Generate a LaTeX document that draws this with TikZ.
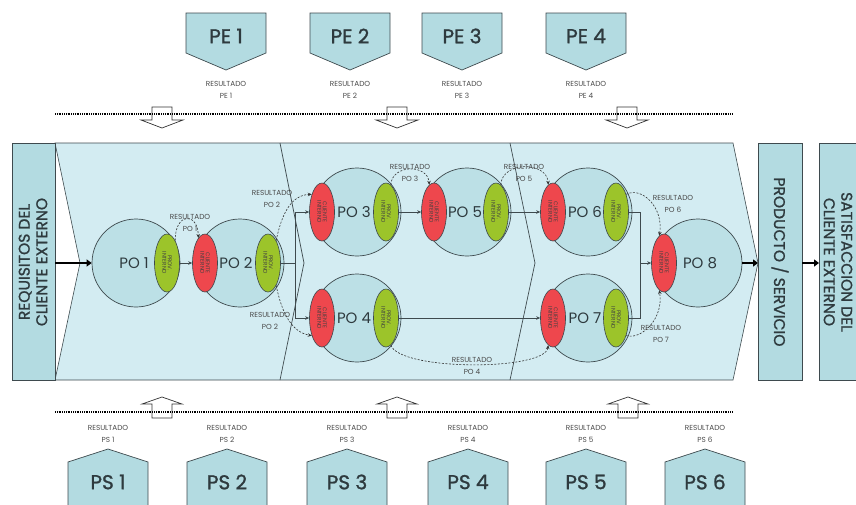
\documentclass[tikz,border=0pt]{standalone}
\usepackage{fontspec}
\setmainfont{Poppins}
\newfontfamily\medfont{Poppins}[FakeBold=1.2]
\usetikzlibrary{shapes.geometric,arrows.meta}
\definecolor{band}{HTML}{D3ECF2}
\definecolor{boxc}{HTML}{B3DBE1}
\definecolor{circc}{HTML}{BCE0E6}
\definecolor{edge}{HTML}{3E4A4E}
\definecolor{redi}{HTML}{EE474D}
\definecolor{greeni}{HTML}{9CC42A}
\definecolor{txt}{HTML}{2E3A3E}
\definecolor{smalltxt}{HTML}{4A4A4A}
\tikzset{
  sidebox/.style={draw=edge, line width=0.6pt, fill=boxc},
  pobox/.style={circle, draw=edge, line width=0.7pt, fill=circc, minimum size=88pt, inner sep=0pt},
  potext/.style={font=\fontsize{15}{15}\selectfont, text=txt, inner sep=0pt},
  redell/.style={ellipse, draw=edge, line width=0.6pt, fill=redi, minimum width=25pt, minimum height=58pt, inner sep=0pt,
    label={[rotate=-90, font=\fontsize{5.5}{5.6}\selectfont, text=black!75, align=center]center:CLIENTE\\INTERNO}},
  greenell/.style={ellipse, draw=edge, line width=0.6pt, fill=greeni, minimum width=25pt, minimum height=58pt, inner sep=0pt,
    label={[rotate=-90, font=\fontsize{5.5}{5.6}\selectfont, text=black!75, align=center]center:PROV.\\INTERNO}},
  restext/.style={font=\fontsize{7.3}{11.5}\selectfont, text=smalltxt, align=center, inner sep=0pt},
  flow/.style={draw=edge, line width=0.7pt},
  flowarr/.style={draw=edge, line width=0.7pt, -{Stealth[length=4pt,width=3.5pt]}},
  resarr/.style={draw=black!80, line width=0.6pt, dash pattern=on 2pt off 1.5pt, -{Stealth[length=4pt,width=3.5pt]}},
  thickarr/.style={draw=black, line width=2.2pt, -{Triangle[length=5pt,width=7pt]}},
  dotline/.style={draw=black, line width=2.4pt, dash pattern=on 1pt off 0.8pt},
  openarr/.style={draw=black!80, line width=0.7pt, fill=white},
  pshape/.style={draw=edge, line width=0.7pt, fill=boxc},
  ptext/.style={font=\medfont\fontsize{20}{20}\selectfont, text=txt, inner sep=0pt},
  sidetext/.style={font=\medfont\fontsize{15.5}{17.5}\selectfont, text=txt, align=center, inner sep=0pt}
}
\begin{document}
\begin{tikzpicture}[x=1pt,y=-1pt]
\useasboundingbox (0,0) rectangle (856,504);

% main band
\path[fill=band, draw=edge, line width=0.6pt] (55,143) -- (733,143) -- (758,263) -- (733,380) -- (55,380) -- (80,263) -- cycle;
\draw[edge, line width=0.7pt] (280,143) -- (304,263) -- (280,380);
\draw[edge, line width=0.7pt] (510,143) -- (535,263) -- (510,380);

% side boxes
\draw[sidebox] (12,143) rectangle (55,380);
\node[sidetext, rotate=90] (req) at (33,262) {REQUISITOS DEL\\CLIENTE EXTERNO};
\coordinate (reqe) at (55,263);
\draw[sidebox] (758,143) rectangle (802,380);
\node[sidetext, rotate=-90] (prod) at (780,262) {PRODUCTO / SERVICIO};
\coordinate (prodw) at (758,263);
\coordinate (prode) at (802,263);
\draw[sidebox] (819,143) rectangle (875,380);
\node[sidetext, rotate=-90] (sat) at (838,262) {SATISFACCION DEL\\CLIENTE EXTERNO};
\coordinate (satw) at (819,263);

% circles
\node[pobox] (po1) at (136,263) {};
\node[pobox] (po2) at (240,263) {};
\node[pobox] (po3) at (357,212) {};
\node[pobox] (po4) at (357,318) {};
\node[pobox] (po5) at (467,212) {};
\node[pobox] (po6) at (588,212) {};
\node[pobox] (po7) at (588,318) {};
\node[pobox] (po8) at (698,263) {};

\node[potext] (t1) at (134,263) {PO 1};
\node[potext] (t2) at (236,263) {PO 2};
\node[potext] (t3) at (354,212) {PO 3};
\node[potext] (t4) at (354,318) {PO 4};
\node[potext] (t5) at (465,212) {PO 5};
\node[potext] (t6) at (585,212) {PO 6};
\node[potext] (t7) at (585,318) {PO 7};
\node[potext] (t8) at (700,263) {PO 8};

% ellipses
\node[greenell] (g1) at (167,263) {};
\node[redell] (r2) at (205,263) {};
\node[greenell] (g2) at (268,263) {};
\node[redell] (r3) at (322,212) {};
\node[greenell] (g3) at (386,212) {};
\node[redell] (r4) at (322,318) {};
\node[greenell] (g4) at (386,318) {};
\node[redell] (r5) at (434,212) {};
\node[greenell] (g5) at (496,212) {};
\node[redell] (r6) at (553,212) {};
\node[greenell] (g6) at (616,212) {};
\node[redell] (r7) at (553,318) {};
\node[greenell] (g7) at (616,318) {};
\node[redell] (r8) at (664,263) {};

% solid flow
\draw[flowarr] (g1.east) -- (r2.west);
\coordinate (j1) at (295,263);
\draw[flow] (g2.east) -- (j1);
\draw[flowarr] (j1) |- (r3.west);
\draw[flowarr] (j1) |- (r4.west);
\draw[flowarr] (g3.east) -- (r5.west);
\draw[flowarr] (g5.east) -- (r6.west);
\draw[flowarr] (g4.east) -- (r7.west);
\coordinate (j2) at (640,263);
\draw[flow] (g6.east) -| (j2);
\draw[flow] (g7.east) -| (j2);
\draw[flowarr] (j2) -- (r8.west);

% thick arrows
\draw[thickarr] (reqe) -- (po1.west);
\draw[thickarr] (po8.east) -- (prodw);
\draw[thickarr] (prode) -- (satw);

% result dashed arcs
\draw[resarr] (g1.70) .. controls (175,212) and (198,212) .. (r2.105);
\draw[resarr] (g2.70) .. controls (282,212) and (292,195) .. (r3.120);
\draw[resarr] (g2.-70) .. controls (282,314) and (292,332) .. (r4.-120);
\draw[resarr] (g3.80) .. controls (392,164) and (428,164) .. (r5.100);
\draw[resarr] (g5.80) .. controls (502,161) and (547,161) .. (r6.100);
\draw[resarr] (g4.-80) .. controls (400,371) and (545,371) .. (r7.-100);
\draw[resarr] (g6.60) .. controls (642,186) and (664,208) .. (r8.100);
\draw[resarr] (g7.-60) .. controls (642,340) and (664,318) .. (r8.-100);

\node[restext] (l1) at (190,223) {RESULTADO\\PO 1};
\node[restext] (l2a) at (272,199) {RESULTADO\\PO 2};
\node[restext] (l2b) at (270,321) {RESULTADO\\PO 2};
\node[restext] (l3) at (410,173) {RESULTADO\\PO 3};
\node[restext] (l5) at (524,173) {RESULTADO\\PO 5};
\node[restext] (l4) at (472,366) {RESULTADO\\PO 4};
\node[restext] (l6) at (673,204) {RESULTADO\\PO 6};
\node[restext] (l7) at (661,334) {RESULTADO\\PO 7};

% PE boxes
\foreach \x/\n in {226/1,350/2,462/3,586/4}{
  \draw[pshape] (\x-40,13) -- (\x+40,13) -- (\x+40,53) -- (\x,70) -- (\x-40,53) -- cycle;
  \node[ptext] (pe\n) at (\x,36) {PE \n};
  \node[restext] (rpe\n) at (\x,90) {RESULTADO\\PE \n};
}
% PS boxes
\foreach \x/\n in {108/1,227/2,347/3,468/4,586/5,705/6}{
  \draw[pshape] (\x-40,510) -- (\x-40,462) -- (\x,449) -- (\x+40,462) -- (\x+40,510);
  \node[ptext] (ps\n) at (\x,482) {PS \n};
  \node[restext] (rps\n) at (\x,434) {RESULTADO\\PS \n};
}

% dotted lines
\coordinate (dta) at (55,114);
\coordinate (dtb) at (733,114);
\coordinate (dba) at (55,412);
\coordinate (dbb) at (733,412);
\draw[dotline] (dta) -- (dtb);
\draw[dotline] (dba) -- (dbb);

% open block arrows
\foreach \x in {162,397,627}{
  \draw[openarr] (\x-10,107) -- (\x+10,107) -- (\x+10,120) -- (\x+21,120) -- (\x,128) -- (\x-21,120) -- (\x-10,120) -- cycle;
}
\foreach \x in {162,397,628}{
  \draw[openarr] (\x-10,418) -- (\x+10,418) -- (\x+10,404) -- (\x+20,404) -- (\x,397) -- (\x-20,404) -- (\x-10,404) -- cycle;
}
\draw[dotline] (dta) -- (dtb);
\draw[dotline] (dba) -- (dbb);
\end{tikzpicture}
\end{document}
